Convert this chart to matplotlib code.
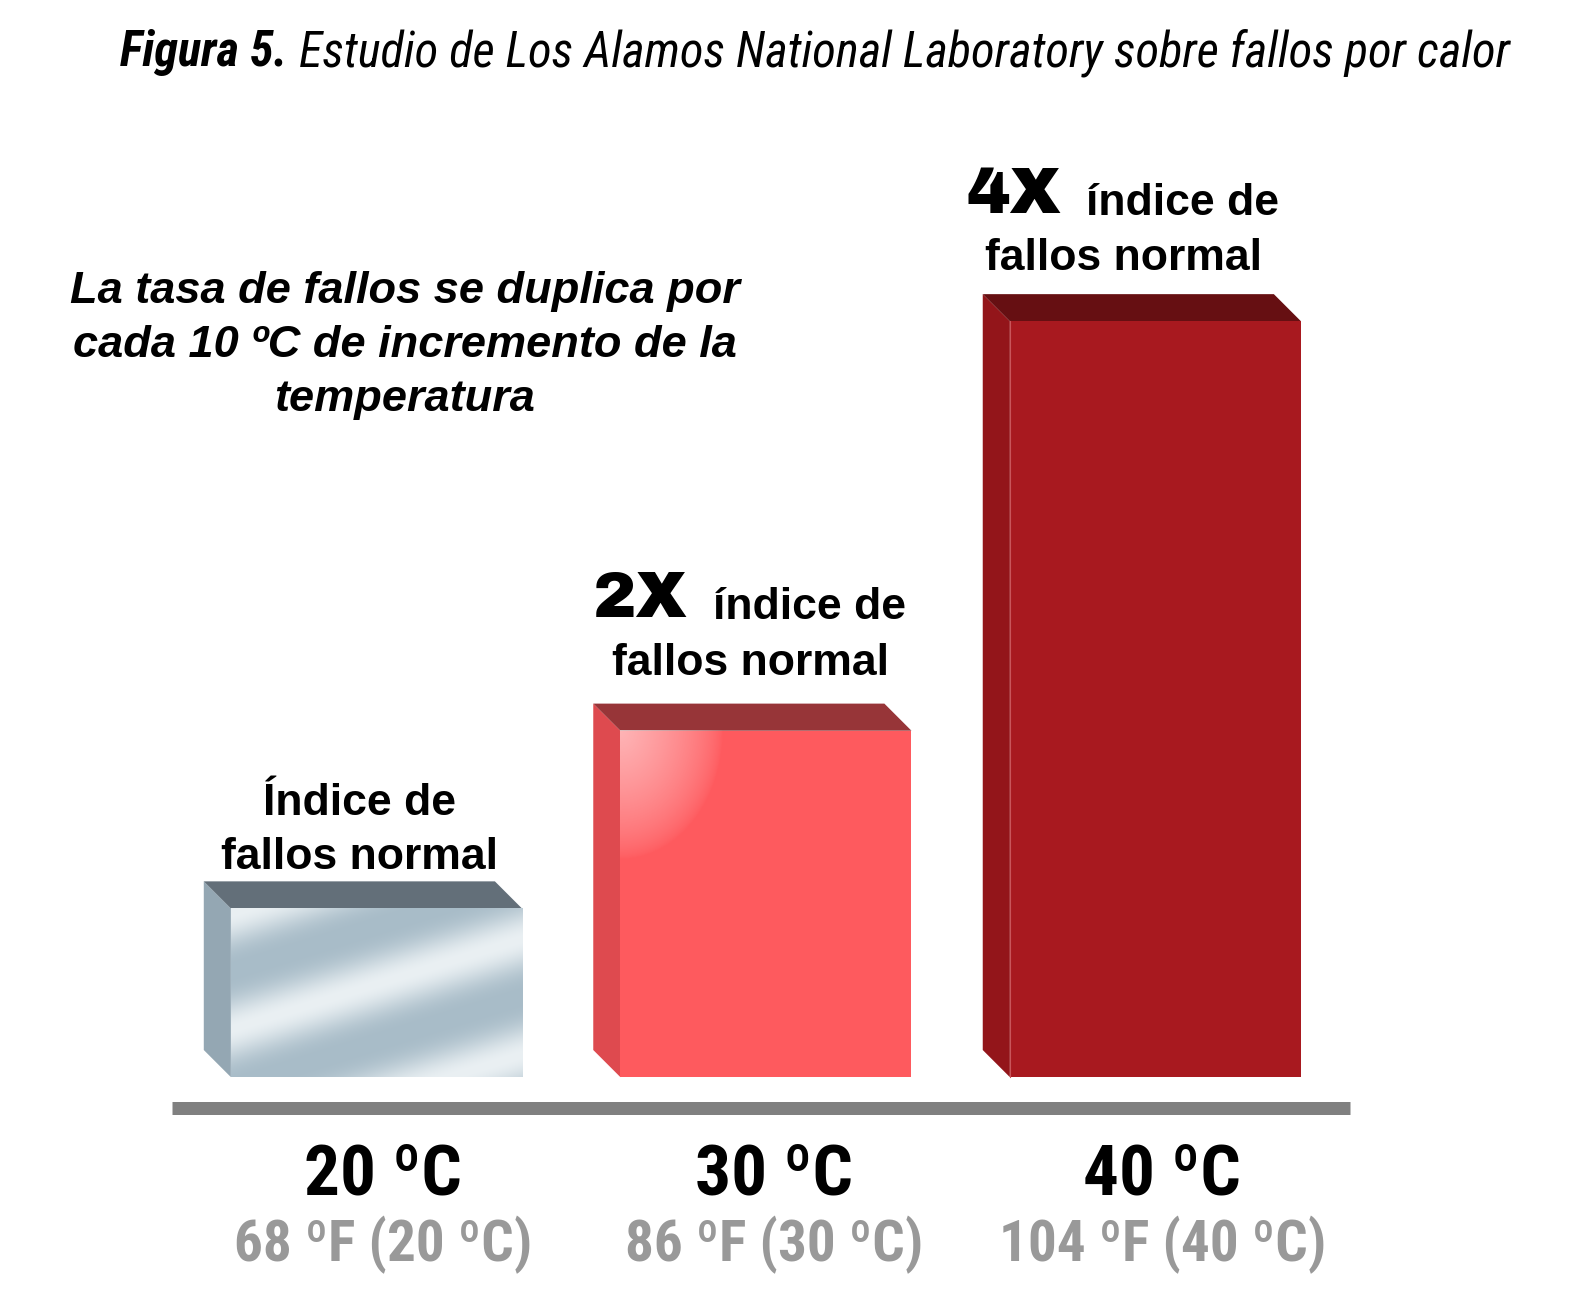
import numpy as np
import matplotlib
matplotlib.use("Agg")
from matplotlib import pyplot as plt
from matplotlib.patches import Polygon

# Data
temps_c = ["20 ºC", "30 ºC", "40 ºC"]
temps_sub = ["68 ºF (20 ºC)", "86 ºF (30 ºC)", "104 ºF (40 ºC)"]
bar_heights = [1.0, 2.054, 4.482]   # drawn height, relative to the 20 ºC bar
multipliers = ["", "2X", "4X"]

title_bold = "Figura 5."
title_rest = " Estudio de Los Alamos National Laboratory sobre fallos por calor"
note_lines = ["La tasa de fallos se duplica por",
              "cada 10 ºC de incremento de la",
              "temperatura"]

# colours: front, side, top
front_cols = ["#b3c4cf", "#fe5a5e", "#a8191f"]
side_cols = ["#94a7b3", "#de4a4f", "#93151a"]
top_cols = ["#636f79", "#973538", "#660f12"]

W, H = 1574, 1310
S = 1574 / 1568  # layout measured on the 1568 px wide preview
NARROW = ["Roboto Condensed", "PT Sans Narrow", "Archivo Narrow", "Liberation Sans"]
NARROW_IT = ["Roboto Condensed", "Archivo Narrow", "Fira Sans Condensed", "Liberation Sans"]
SANS = ["Liberation Sans", "DejaVu Sans"]
BLACK = ["Archivo Black", "DejaVu Sans"]


def px(x, y):
    return x * S / W, 1 - y * S / H


fig = plt.figure(figsize=(W / 100, H / 100), dpi=100)
ax = fig.add_axes([0, 0, 1, 1])

# one category unit = 388 px, one height unit = 168 px, base at y=1073 px
cu, hu, x0px, basepx = 388 * S, 168 * S, 375 * S, 1073 * S
xmin, xmax = -x0px / cu, (W - x0px) / cu
ymin, ymax = -(H - basepx) / hu, basepx / hu
bw = 290 * S / cu
dx, dy = -27 * S / cu, 27 * S / hu

xs = np.arange(len(bar_heights))

for i, h in enumerate(bar_heights):
    x0, x1 = xs[i] - bw / 2, xs[i] + bw / 2
    ax.add_patch(Polygon([(x0, 0), (x0 + dx, dy), (x0 + dx, h + dy), (x0, h)],
                         closed=True, fc=side_cols[i], ec="none", zorder=2))
    ax.add_patch(Polygon([(x0, h), (x0 + dx, h + dy), (x1 + dx, h + dy), (x1, h)],
                         closed=True, fc=top_cols[i], ec="none", zorder=2))
    if i == 0:
        # brushed silver front
        ny, nx = 168, 290
        yy, xx = np.mgrid[0:ny, 0:nx]
        s = yy + 0.31 * xx
        t = 0.5 + 0.5 * np.cos(2 * np.pi * (s - 5) / 115)
        t = t ** 1.5
        light = np.array([234, 240, 243]) / 255
        dark = np.array([168, 188, 200]) / 255
        img = dark + (light - dark) * t[..., None]
        ax.imshow(img, extent=(x0, x1, 0, h), origin="upper", aspect="auto",
                  interpolation="bilinear", zorder=3)
    else:
        ax.add_patch(Polygon([(x0, 0), (x1, 0), (x1, h), (x0, h)],
                             closed=True, fc=front_cols[i], ec="none", zorder=3))
    if i == 1:
        # glossy highlight in the top-left corner
        ny, nx = 200, 200
        yy, xx = np.mgrid[0:ny, 0:nx]
        r = np.sqrt((xx / 102.0) ** 2 + (yy / 128.0) ** 2)
        a = np.clip(1 - r, 0, 1) ** 0.7 * 0.55
        over = np.ones((ny, nx, 4))
        over[..., 3] = a
        ax.imshow(over, extent=(x0, x0 + nx / 388, h - ny / 168, h), origin="upper",
                  aspect="auto", interpolation="bilinear", zorder=4)
    if i == 2:
        ax.plot([x0, x0], [0, h], color="#c9555a", lw=0.8, zorder=4)

# base line
ax.plot([-204 / 388, 970 / 388], [-30.5 / 168] * 2, color="#808080", lw=13 * 0.72,
        solid_capstyle="butt", zorder=1)

ax.set_xlim(xmin, xmax)
ax.set_ylim(ymin, ymax)
ax.axis("off")

renderer = fig.canvas.get_renderer()


def width_of(t):
    return t.get_window_extent(renderer).width


def fit(texts, target):
    # scale font so that the first text has the target width (preview px)
    f = target * S / width_of(texts[0])
    for t in texts:
        t.set_fontsize(t.get_fontsize() * f)


# category labels
top_lbls, sub_lbls = [], []
centers_top = [381, 771, 1157.5]
centers_sub = [382, 771.5, 1158]
for i in range(len(temps_c)):
    top_lbls.append(fig.text(*px(centers_top[i], 1190), temps_c[i], ha="center",
                             va="baseline", fontsize=46, fontweight="bold",
                             family=NARROW, color="black"))
    sub_lbls.append(fig.text(*px(centers_sub[i], 1256), temps_sub[i], ha="center",
                             va="baseline", fontsize=42, fontweight="bold",
                             family=NARROW, color="#999999"))
fit(top_lbls, 157)
fit(sub_lbls, 298)

# title
t1 = fig.text(*px(120, 66), title_bold, ha="left", va="baseline", fontsize=36,
              fontweight="bold", fontstyle="italic", family=NARROW_IT)
t2 = fig.text(*px(300, 66), title_rest, ha="left", va="baseline", fontsize=36,
              fontstyle="italic", family=NARROW_IT)
f = 1387 * S / (width_of(t1) + width_of(t2))
t1.set_fontsize(36 * f)
t2.set_fontsize(36 * f)
bb = t1.get_window_extent(renderer)
t2.set_x(bb.x1 / W)

# note
for k, line in enumerate(note_lines):
    fig.text(*px(403, 302 + 53.5 * k), line, ha="center", va="baseline", fontsize=32.5,
             fontweight="bold", fontstyle="italic", family=SANS)

# bar labels
fig.text(*px(358, 812), "Índice de", ha="center", va="baseline", fontsize=32,
         fontweight="bold", family=SANS)
fig.text(*px(358, 866), "fallos normal", ha="center", va="baseline", fontsize=32,
         fontweight="bold", family=SANS)

for i, (lx, ix, cx, base) in zip([1, 2], [(590, 710, 748, 615), (963, 1082, 1119, 212)]):
    m = fig.text(*px(lx, base), multipliers[i], ha="left", va="baseline", fontsize=40,
                 family=BLACK)
    fit([m], 94)
    fig.text(*px(ix, base + 2), "índice de", ha="left", va="baseline", fontsize=32,
             fontweight="bold", family=SANS)
    fig.text(*px(cx, base + 57), "fallos normal", ha="center", va="baseline", fontsize=32,
             fontweight="bold", family=SANS)

fig.savefig("out.png", dpi=100)
